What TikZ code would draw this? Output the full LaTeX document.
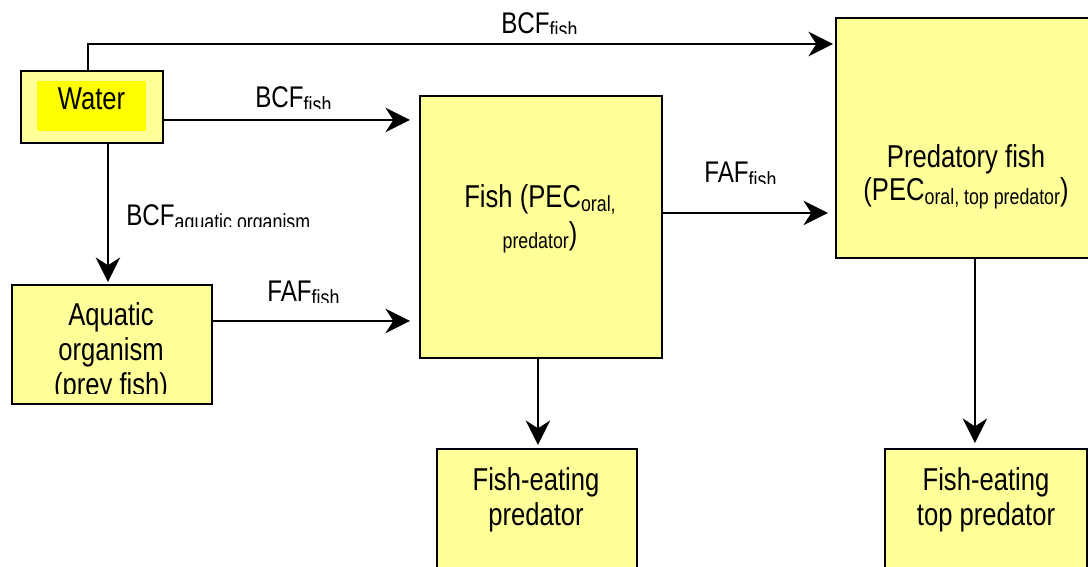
\documentclass[tikz,border=0pt]{standalone}
\usepackage{fontspec}
\setmainfont{Liberation Sans}[FakeStretch=0.81]
\usetikzlibrary{arrows.meta}
\definecolor{boxyellow}{HTML}{FFFF99}
\definecolor{wateryellow}{HTML}{FFFF00}
\newcommand{\subtxt}[1]{\raisebox{-2.3pt}{\fontsize{12.5}{14}\selectfont #1}}
\tikzset{
  box/.style={draw=black, line width=1.1pt, fill=boxyellow, inner sep=0pt, anchor=north west},
  flow/.style={line width=1.1pt, -{Stealth[length=14pt,width=14pt,inset=4.5pt]}},
  boxtext/.style={font=\fontsize{18}{20}\selectfont, align=center, inner sep=0pt},
  lbl/.style={font=\fontsize{17}{20}\selectfont, inner sep=0pt, anchor=base west}
}
\begin{document}
\begin{tikzpicture}[x=0.02cm, y=-0.02cm]
  \clip (0,0) rectangle (1088,567);

  % boxes
  \node[box, minimum width=2.84cm, minimum height=1.44cm] (water) at (20,70) {};
  \node[fill=wateryellow, inner sep=0pt, minimum width=2.18cm, minimum height=1cm, anchor=north west] (waterbg) at (37,81) {};
  \node[boxtext, anchor=base] (watertxt) at (91.5,110) {Water};

  \node[box, minimum width=4cm, minimum height=2.38cm] (aquatic) at (11,284) {};
  \begin{scope}
    \clip (0,0) rectangle (300,393);
    \node[boxtext] (aquatxt) at (111,352) {Aquatic\\organism\\(prey fish)};
  \end{scope}

  \node[box, minimum width=4.84cm, minimum height=5.24cm] (fish) at (419,95) {};
  \node[boxtext, font=\fontsize{18}{21}\selectfont] (fishtxt) at (540,219) {Fish (PEC\subtxt{oral,}\\\subtxt{predator})};

  \node[box, minimum width=5.1cm, minimum height=4.8cm] (pred) at (835,17) {};
  \node[boxtext, font=\fontsize{18}{19}\selectfont] (predtxt) at (966,177) {Predatory fish\\(PEC\subtxt{oral, top predator})};

  \node[box, minimum width=4cm, minimum height=3cm] (fep) at (436,448) {};
  \node[boxtext] (feptxt) at (536,500) {Fish-eating\\predator};

  \node[box, minimum width=4.04cm, minimum height=3cm] (fetp) at (884,448) {};
  \node[boxtext] (fetptxt) at (986,500) {Fish-eating\\top predator};

  % connectors
  \draw[flow, shorten >=0.04cm] ([xshift=-0.08cm]water.north) |- ([yshift=-0.54cm]pred.north west);
  \coordinate (wout) at ([yshift=-0.26cm]water.east);
  \draw[flow, shorten >=0.18cm] (wout) -- (wout -| fish.west);
  \coordinate (wdown) at ([xshift=0.32cm]water.south);
  \draw[flow, shorten >=0.04cm] (wdown) -- (wdown |- aquatic.north);
  \coordinate (aout) at ([yshift=0.47cm]aquatic.east);
  \draw[flow, shorten >=0.18cm] (aout) -- (aout -| fish.west);
  \coordinate (fout) at ([yshift=0.28cm]fish.east);
  \draw[flow, shorten >=0.14cm] (fout) -- (fout -| pred.west);
  \coordinate (fdown) at ([xshift=-0.06cm]fish.south);
  \draw[flow, shorten >=0.06cm] (fdown) -- (fdown |- fep.north);
  \coordinate (pdown) at ([xshift=0.23cm]pred.south);
  \draw[flow, shorten >=0.1cm] (pdown) -- (pdown |- fetp.north);

  % labels
  \begin{scope}
    \clip (480,0) rectangle (640,34);
    \node[lbl] (bcftop) at (501,33.5) {BCF\subtxt{fish}};
  \end{scope}
  \begin{scope}
    \clip (230,60) rectangle (380,109);
    \node[lbl] (bcfmid) at (255,108) {BCF\subtxt{fish}};
  \end{scope}
  \begin{scope}
    \clip (110,180) rectangle (400,226.5);
    \node[lbl] (bcfaq) at (126,225.5) {BCF\subtxt{aquatic organism}};
  \end{scope}
  \begin{scope}
    \clip (230,260) rectangle (400,302.5);
    \node[lbl] (fafmid) at (267,301.5) {FAF\subtxt{fish}};
  \end{scope}
  \begin{scope}
    \clip (680,140) rectangle (820,184);
    \node[lbl] (fafright) at (704,183) {FAF\subtxt{fish}};
  \end{scope}
\end{tikzpicture}
\end{document}
